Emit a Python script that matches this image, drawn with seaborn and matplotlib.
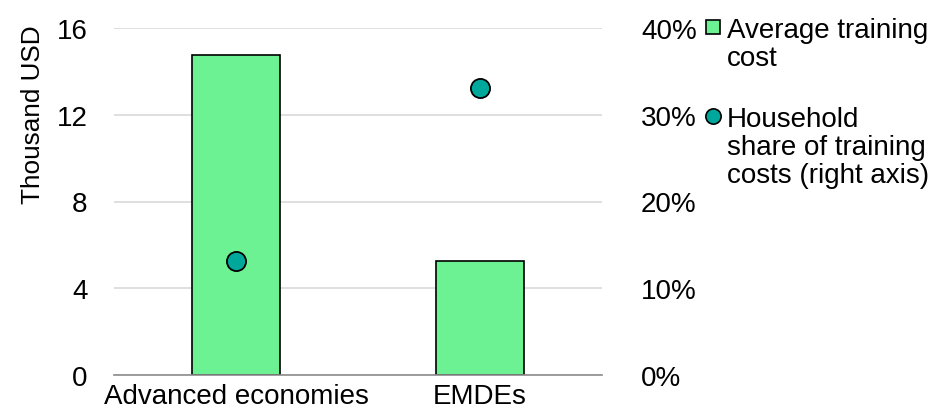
import matplotlib
matplotlib.use("Agg")
import matplotlib.pyplot as plt
import matplotlib.ticker as mticker
from matplotlib.lines import Line2D
import numpy as np
import pandas as pd
import seaborn as sns

# Data
categories = ["Advanced economies", "EMDEs"]
avg_training_cost = [14.75, 5.25]          # thousand USD (left axis)
household_share = [0.131, 0.331]           # share of training costs (right axis)
left_ticks = [0, 4, 8, 12, 16]
right_ticks = [0.0, 0.1, 0.2, 0.3, 0.4]

bar_color = "#6CF292"
dot_color = "#00A89C"
grid_color = "#D9D9D9"
axis_color = "#8C8C8C"

sns.set_theme(style="white")
plt.rcParams["font.family"] = ["Liberation Sans", "DejaVu Sans"]
plt.rcParams["text.color"] = "black"
plt.rcParams["axes.labelcolor"] = "black"
plt.rcParams["xtick.color"] = "black"
plt.rcParams["ytick.color"] = "black"
fs = 20

df = pd.DataFrame({"category": categories,
                   "cost": avg_training_cost,
                   "share": household_share})

fig = plt.figure(figsize=(9.3, 4.1), dpi=100)
ax = fig.add_axes([114 / 930, 1 - 376 / 410, (602 - 114) / 930, (376 - 29) / 410])

sns.barplot(data=df, x="category", y="cost", ax=ax, color=bar_color,
            width=0.36, edgecolor="black", linewidth=1.2, saturation=1,
            zorder=2)
ax.set_xlim(-0.5, 1.5)
ax.set_ylim(0, 16)
ax.set_yticks(left_ticks)
ax.yaxis.grid(True, color=grid_color, linewidth=1.2, zorder=0)
ax.set_axisbelow(True)
ax.set_xlabel("")
ax.set_ylabel("Thousand USD", fontsize=18.8)
ax.yaxis.set_label_coords(-0.142, 0.752)
ax.tick_params(axis="y", length=0, labelsize=fs, pad=19)
ax.tick_params(axis="x", length=0, labelsize=fs, pad=6)
for s in ["top", "right", "left"]:
    ax.spines[s].set_visible(False)
ax.spines["bottom"].set_color(axis_color)
ax.spines["bottom"].set_linewidth(1.2)

ax2 = ax.twinx()
sns.scatterplot(data=df, x="category", y="share", ax=ax2, color=dot_color,
                s=190, edgecolor="black", linewidth=1.3, zorder=3, legend=False)
ax2.set_ylim(0, 0.4)
ax2.set_yticks(right_ticks)
ax2.yaxis.set_major_formatter(mticker.PercentFormatter(xmax=1, decimals=0))
ax2.tick_params(axis="y", length=0, labelsize=fs, pad=28)
ax2.set_ylabel("")
for s in ["top", "right", "left", "bottom"]:
    ax2.spines[s].set_visible(False)
ax.set_xlim(-0.5, 1.5)

# Legend: one block per series, continuation lines carry empty handles
blank = Line2D([], [], linestyle="none", marker=None)
sq = Line2D([], [], linestyle="none", marker="s", markersize=10,
            markerfacecolor=bar_color, markeredgecolor="black", markeredgewidth=1.2)
ci = Line2D([], [], linestyle="none", marker="o", markersize=11,
            markerfacecolor=dot_color, markeredgecolor="black", markeredgewidth=1.2)

common = dict(loc="upper left", frameon=False, fontsize=fs, handlelength=0.55,
              handletextpad=0.25, labelspacing=0.07, borderpad=0, borderaxespad=0)
leg1 = fig.legend([sq, blank], ["Average training", "cost"],
                  bbox_to_anchor=(705 / 930, 1 - 18 / 410), **common)
leg2 = fig.legend([ci, blank, blank],
                  ["Household", "share of training", "costs (right axis)"],
                  bbox_to_anchor=(705 / 930, 1 - 107 / 410), **common)

fig.savefig("out.png", dpi=100)
